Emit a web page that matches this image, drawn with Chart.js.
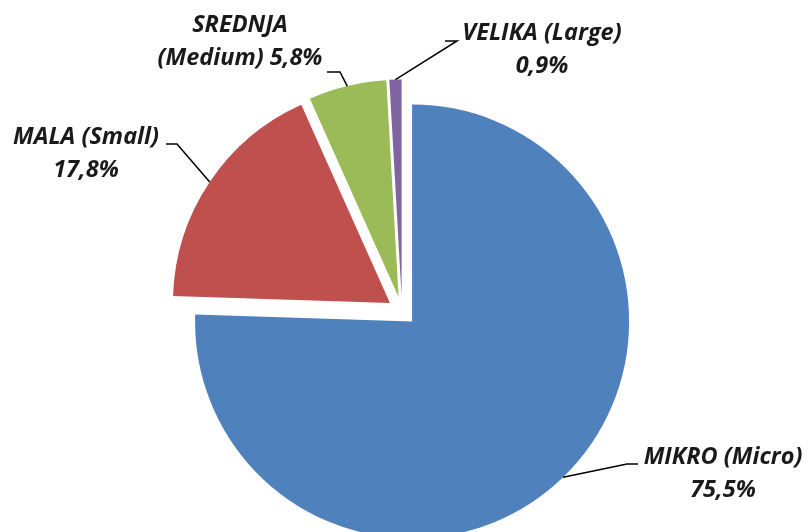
<!DOCTYPE html>
<html>
<head>
<meta charset="utf-8">
<script src="https://cdn.jsdelivr.net/npm/chart.js@4.4.0/dist/chart.umd.min.js"></script>
<style>
html, body { margin: 0; padding: 0; background: #fff; }
#wrap { width: 810px; height: 532px; }
</style>
</head>
<body>
<div id="wrap"><canvas id="myChart" width="810" height="532"></canvas></div>
<script>
// data
const names = ["MIKRO", "MALA", "SREDNJA", "VELIKA"]
const namesEn = ["(Micro)", "(Small)", "(Medium)", "(Large)"]
const shares = [75.5, 17.8, 5.8, 0.9]
const colors = ["#4F81BD", "#C0504D", "#9BBB59", "#8064A2"]

// label layout: centre of first text line, leader elbow and end, how the text wraps
const labelPos = [
    { x: 723, y: 457, elbow: [627, 464], end: [638, 464], split: "name" },
    { x: 86, y: 137, elbow: [177, 144], end: [166, 144], split: "name" },
    { x: 240, y: 25, elbow: [340, 72], end: [327, 72], split: "local" },
    { x: 542, y: 33, elbow: [457, 41], end: [445, 41], split: "name" }
]

const radius = 217
const explode = 14.5   // how far every slice is pulled out

function pct(v) {
    return v.toFixed(1).replace(".", ",") + "%"
}

function labelLines(i) {
    if (labelPos[i].split == "local") {
        return [names[i], namesEn[i] + " " + pct(shares[i])]
    }
    return [names[i] + " " + namesEn[i], pct(shares[i])]
}

// pull every slice out along its middle angle (like an exploded excel pie)
const explodeSlices = {
    id: "explodeSlices",
    afterDatasetsUpdate(chart) {
        chart.getDatasetMeta(0).data.forEach(arc => {
            let mid = (arc.startAngle + arc.endAngle) / 2
            arc.x += Math.cos(mid) * explode
            arc.y += Math.sin(mid) * explode
        })
    }
}

const sliceLabels = {
    id: "sliceLabels",
    afterDraw(chart) {
        let ctx = chart.ctx
        ctx.save()
        chart.getDatasetMeta(0).data.forEach((arc, i) => {
            let mid = (arc.startAngle + arc.endAngle) / 2
            let sx = arc.x + Math.cos(mid) * arc.outerRadius
            let sy = arc.y + Math.sin(mid) * arc.outerRadius
            let p = labelPos[i]
            ctx.strokeStyle = "#000"
            ctx.lineWidth = 1.5
            ctx.beginPath()
            ctx.moveTo(sx, sy)
            ctx.lineTo(p.elbow[0], p.elbow[1])
            ctx.lineTo(p.end[0], p.end[1])
            ctx.stroke()

            ctx.fillStyle = "#1a1a1a"
            ctx.font = "italic bold 23.5px 'Open Sans'"
            ctx.textAlign = "center"
            ctx.textBaseline = "middle"
            let lines = labelLines(i)
            for (let j = 0; j < lines.length; j++) {
                ctx.fillText(lines[j], p.x, p.y + j * 33)
            }
        })
        ctx.restore()
    }
}

new Chart(document.getElementById("myChart"), {
    type: "pie",
    data: {
        labels: names,
        datasets: [{
            data: shares,
            backgroundColor: colors,
            borderWidth: 0,
            clip: false
        }]
    },
    options: {
        responsive: false,
        animation: false,
        radius: radius,
        layout: { padding: { left: 0, right: 6, top: 90, bottom: 0 } },
        plugins: {
            legend: { display: false },
            tooltip: { enabled: false }
        }
    },
    plugins: [explodeSlices, sliceLabels]
})
</script>
</body>
</html>
